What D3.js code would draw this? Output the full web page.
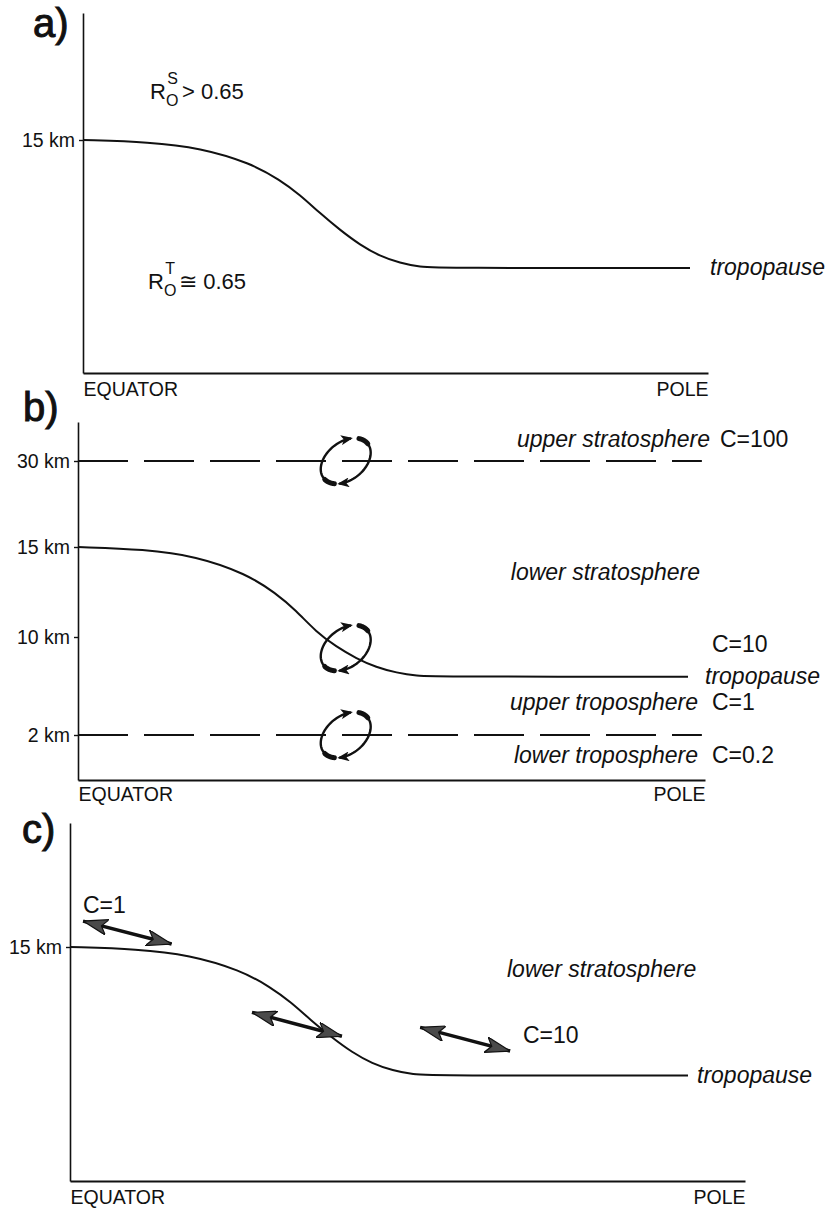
<!DOCTYPE html>
<html><head><meta charset="utf-8">
<script src="https://cdn.jsdelivr.net/npm/d3@7"></script>
<style>
body{margin:0;background:#fff;}
svg text{font-family:"Liberation Sans",Arial,Helvetica,sans-serif;fill:#111;}
</style></head><body>
<svg id="chart" width="832" height="1211"></svg>
<script>
// Tropopause height (km) from the equator (0°) to the pole (90°)
const tropLat = [0, 9.9, 17.4, 24.8, 29.2, 32.2, 35.1, 38.1, 41.1, 44.0, 47.0, 50.0, 52.9, 90];
const tropKm  = [15, 14.87, 14.49, 13.52, 12.43, 11.46, 10.30, 9.21, 8.24, 7.53, 7.08, 6.82, 6.76, 6.76];

const panelLetters = ["a)", "b)", "c)"];
const axisEnds = ["EQUATOR", "POLE"];

// panel a: height ticks
const ticksA = [15];
// panel b: height ticks, dashed reference levels, eddies (lat, km)
const ticksB = [30, 15, 10, 2];
const dashedKmB = [30, 2];
const eddyLat = [39.5, 39.5, 39.5];
const eddyKm  = [30, 9.1, 2];
const layerNames = ["upper stratosphere", "lower stratosphere", "upper troposphere", "lower troposphere"];
const layerC = ["C=100", "C=10", "C=1", "C=0.2"];
// panel c: height ticks and two-way mixing arrows (lat, km at both ends)
const ticksC = [15];
const arrowLat0 = [1.9, 26.5, 51.0];
const arrowKm0  = [16.66, 10.81, 9.85];
const arrowLat1 = [14.8, 39.6, 64.1];
const arrowKm1  = [15.19, 9.28, 8.33];
const arrowC = ["C=1", "C=10"];

const svg = d3.select("#chart");
const INK = "#111";
const FONT = "Liberation Sans, Arial, sans-serif";

const defs = svg.append("defs");
// grey filled arrow head for the mixing arrows
defs.append("marker").attr("id", "mixHead")
  .attr("markerUnits", "userSpaceOnUse")
  .attr("viewBox", "0 0 25 16").attr("refX", 25).attr("refY", 8)
  .attr("markerWidth", 25).attr("markerHeight", 16)
  .attr("orient", "auto-start-reverse")
  .append("path").attr("d", "M0,0 L25,8 L0,16 L6,8 Z")
  .attr("fill", "#4a4a4a").attr("stroke", INK).attr("stroke-width", 1.2);
// small black head for eddy arcs
defs.append("marker").attr("id", "eddyHead")
  .attr("markerUnits", "userSpaceOnUse")
  .attr("viewBox", "0 0 12 10").attr("refX", 10).attr("refY", 5)
  .attr("markerWidth", 12).attr("markerHeight", 10)
  .attr("orient", "auto")
  .append("path").attr("d", "M0,0 L12,5 L0,10 L3,5 Z").attr("fill", INK);

function makePanel(cfg) {
  const g = svg.append("g");
  const frame = d3.scaleLinear().domain([0, 1]).range([cfg.x0, cfg.x1]);
  const x = d3.scaleLinear().domain([0, 90]).range([cfg.x0, cfg.xPole]);
  const y = d3.scaleLinear().domain(cfg.kmDomain).range(cfg.pxRange);
  const kmTop = y.invert(cfg.top);
  const yAxisScale = d3.scaleLinear()
    .domain([...cfg.kmDomain, kmTop]).range([...cfg.pxRange, cfg.top]);

  // height axis
  const ya = g.append("g").attr("transform", `translate(${cfg.x0},0)`)
    .call(d3.axisLeft(yAxisScale).tickValues(cfg.ticks)
      .tickFormat(d => d + " km").tickSize(4).tickSizeOuter(0).tickPadding(4));
  ya.select(".domain").attr("stroke", INK).attr("stroke-width", 1.6);
  ya.selectAll(".tick line").attr("stroke", INK).attr("stroke-width", 1.4);
  ya.selectAll(".tick text").attr("font-size", 19.5).attr("fill", INK).attr("font-family", FONT);

  // equator-to-pole axis
  const xa = g.append("g").attr("transform", `translate(0,${cfg.pxRange[0]})`)
    .call(d3.axisBottom(frame).tickValues([0, 1])
      .tickFormat((d, i) => axisEnds[i]).tickSize(0).tickSizeOuter(0).tickPadding(cfg.labelPad));
  xa.select(".domain").attr("stroke", INK).attr("stroke-width", 1.8);
  xa.selectAll(".tick text").attr("font-size", 19.5).attr("fill", INK).attr("font-family", FONT)
    .attr("text-anchor", (d, i) => i === 0 ? "start" : "end");

  // panel letter
  g.append("text").attr("x", cfg.letterX).attr("y", cfg.letterY)
    .attr("font-size", 40).attr("stroke", INK).attr("stroke-width", 1)
    .text(cfg.letter);

  // tropopause
  const line = d3.line().x(d => x(d[0])).y(d => y(d[1])).curve(d3.curveBasis);
  g.append("path").datum(d3.zip(tropLat, tropKm))
    .attr("d", line).attr("fill", "none").attr("stroke", INK).attr("stroke-width", 2);

  return {g, x, y, frame};
}

const LBL = 23;
function italicEnd(g, xEnd, yBase, str) {
  g.append("text").attr("x", xEnd).attr("y", yBase).attr("text-anchor", "end")
    .attr("font-size", LBL).attr("font-style", "italic").text(str);
}
function italicStart(g, x0, yBase, str) {
  g.append("text").attr("x", x0).attr("y", yBase)
    .attr("font-size", LBL).attr("font-style", "italic").text(str);
}
function plainLabel(g, x0, yBase, str) {
  g.append("text").attr("x", x0).attr("y", yBase).attr("font-size", LBL).text(str);
}
function rossby(g, x0, yBase, sup, rel, val) {
  const t = g.append("text").attr("x", x0).attr("y", yBase).attr("font-size", 22);
  t.append("tspan").text("R");
  t.append("tspan").attr("font-size", 16).attr("dy", 7).text("O");
  t.append("tspan").attr("font-size", 16).attr("dx", -11).attr("dy", -22).text(sup);
  t.append("tspan").attr("dx", 4).attr("dy", 15).text(rel + " " + val);
}
const poleKm = tropKm[tropKm.length - 1];

// ---------------- panel a
const A = makePanel({x0: 83, x1: 708, xPole: 690, top: 13,
  kmDomain: [0, 15], pxRange: [373, 140], ticks: ticksA, labelPad: 9,
  letter: panelLetters[0], letterX: 33, letterY: 37});
rossby(A.g, 150, 99, "S", ">", "0.65");
rossby(A.g, 148, 289, "T", "\u2245", "0.65");
italicStart(A.g, 710, A.y(poleKm) + 7, "tropopause");

// ---------------- panel b
const B = makePanel({x0: 78, x1: 705, xPole: 688, top: 422,
  kmDomain: [0, 2, 10, 15, 30], pxRange: [780, 735, 637, 547, 461], ticks: ticksB, labelPad: 7,
  letter: panelLetters[1], letterX: 23, letterY: 421});

B.g.selectAll("line.level").data(dashedKmB).join("line").attr("class", "level")
  .attr("x1", B.frame(0)).attr("x2", B.frame(0.995))
  .attr("y1", d => B.y(d)).attr("y2", d => B.y(d))
  .attr("stroke", INK).attr("stroke-width", 2).attr("stroke-dasharray", "50,16");

// eddies: two arcs round a tilted ellipse, clockwise, heads at the gaps
const RX = 28, RY = 19, TILT = -38;
function arcPath(t0, t1) {
  const n = 40, pts = [];
  for (let i = 0; i <= n; i++) {
    const t = (t0 + (t1 - t0) * i / n) * Math.PI / 180;
    pts.push([RX * Math.cos(t), -RY * Math.sin(t)]);
  }
  return d3.line()(pts);
}
const eddies = B.g.selectAll("g.eddy").data(d3.zip(eddyLat, eddyKm)).join("g")
  .attr("class", "eddy")
  .attr("transform", d => `translate(${B.x(d[0])},${B.y(d[1])}) rotate(${TILT})`);
[[215, 50], [30, -133]].forEach(([t0, t1]) => {
  eddies.append("path").attr("d", arcPath(t0, t1)).attr("fill", "none")
    .attr("stroke", INK).attr("stroke-width", 2.4).attr("marker-end", "url(#eddyHead)");
  eddies.append("path").attr("d", arcPath(t0, t0 - 30 * Math.sign(t0 - t1))).attr("fill", "none")
    .attr("stroke", INK).attr("stroke-width", 5).attr("stroke-linecap", "round");
});

// layer names and mixing coefficients
italicEnd(B.g, 710, 447, layerNames[0]);
plainLabel(B.g, 720, 447, layerC[0]);
italicEnd(B.g, 700, 580, layerNames[1]);
plainLabel(B.g, 712, 652, layerC[1]);
italicStart(B.g, 705, B.y(poleKm) + 7, "tropopause");
italicEnd(B.g, 698, 710, layerNames[2]);
plainLabel(B.g, 712, 710, layerC[2]);
italicEnd(B.g, 698, 763, layerNames[3]);
plainLabel(B.g, 712, 763, layerC[3]);

// ---------------- panel c
const Cp = makePanel({x0: 70, x1: 745, xPole: 688, top: 823,
  kmDomain: [0, 15], pxRange: [1181, 947], ticks: ticksC, labelPad: 9,
  letter: panelLetters[2], letterX: 22, letterY: 843});

Cp.g.selectAll("path.mix").data(d3.range(arrowLat0.length)).join("path")
  .attr("class", "mix")
  .attr("d", i => d3.line()([[Cp.x(arrowLat0[i]), Cp.y(arrowKm0[i])],
                              [Cp.x(arrowLat1[i]), Cp.y(arrowKm1[i])]]))
  .attr("stroke", INK).attr("stroke-width", 3.5).attr("fill", "none")
  .attr("marker-start", "url(#mixHead)").attr("marker-end", "url(#mixHead)");

plainLabel(Cp.g, 83, 913, arrowC[0]);
plainLabel(Cp.g, 523, 1043, arrowC[1]);
italicStart(Cp.g, 507, 977, layerNames[1]);
italicStart(Cp.g, 697, Cp.y(poleKm) + 7, "tropopause");
</script>
</body></html>
